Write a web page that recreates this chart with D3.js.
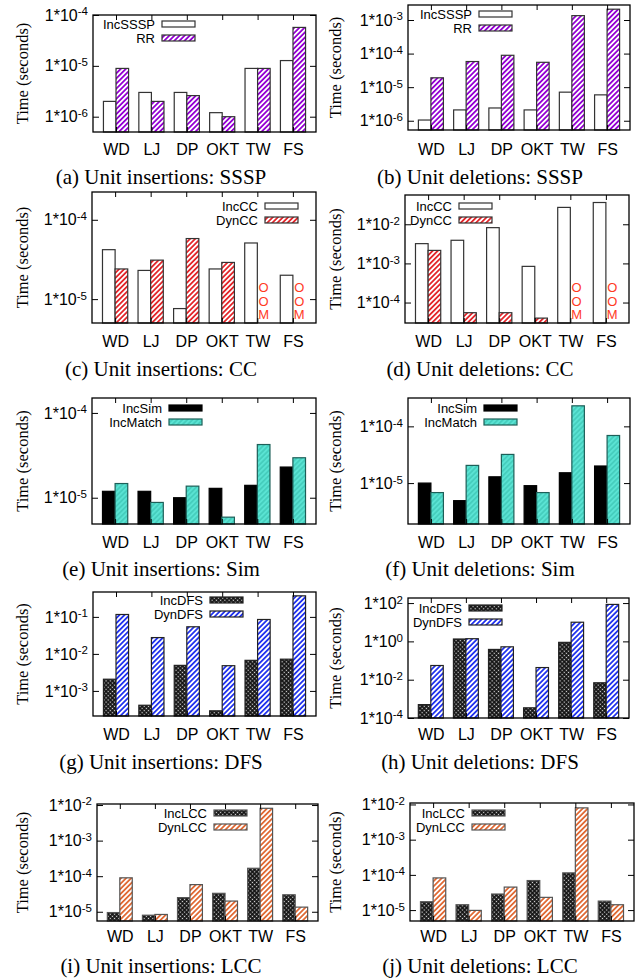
<!DOCTYPE html>
<html>
<head>
<meta charset="utf-8">
<script src="https://cdn.jsdelivr.net/npm/d3@7"></script>
<style>
    body { margin: 0; background: #fff; }
    svg text { font-family: "Liberation Sans", Arial, sans-serif; fill: #000; }
    svg text.serif { font-family: "Liberation Serif", "Times New Roman", serif; }
</style>
</head>
<body>
<svg id="chart" width="644" height="980"></svg>
<script>

// datasets on the x axis
const categories = ["WD", "LJ", "DP", "OKT", "TW", "FS"];

// (a) unit insertions: SSSP
const ssspInsInc = [2.0e-6, 3.0e-6, 3.0e-6, 1.2e-6, 8.9e-6, 1.27e-5];
const ssspInsRR = [8.9e-6, 2.0e-6, 2.6e-6, 1.0e-6, 8.9e-6, 5.7e-5];
// (b) unit deletions: SSSP
const ssspDelInc = [1.05e-6, 2.1e-6, 2.4e-6, 2.1e-6, 7.1e-6, 5.9e-6];
const ssspDelRR = [1.9e-5, 5.8e-5, 8.9e-5, 5.5e-5, 1.35e-3, 2.1e-3];
// (c) unit insertions: CC   (null = OOM)
const ccInsInc = [4.2e-5, 2.3e-5, 7.6e-6, 2.4e-5, 5.1e-5, 2.0e-5];
const ccInsDyn = [2.4e-5, 3.1e-5, 5.8e-5, 2.9e-5, null, null];
// (d) unit deletions: CC
const ccDelInc = [3.2e-3, 3.9e-3, 8.2e-3, 8.4e-4, 2.7e-2, 3.6e-2];
const ccDelDyn = [2.15e-3, 5.5e-5, 5.5e-5, 4.0e-5, null, null];
// (e) unit insertions: Sim
const simInsSim = [1.19e-5, 1.19e-5, 1.0e-5, 1.29e-5, 1.4e-5, 2.3e-5];
const simInsMatch = [1.47e-5, 8.8e-6, 1.37e-5, 5.9e-6, 4.24e-5, 2.96e-5];
// (f) unit deletions: Sim
const simDelSim = [1.0e-5, 4.9e-6, 1.29e-5, 9.0e-6, 1.52e-5, 2.0e-5];
const simDelMatch = [6.8e-6, 2.05e-5, 3.2e-5, 6.8e-6, 2.3e-4, 6.9e-5];
// (g) unit insertions: DFS
const dfsInsInc = [2.07e-3, 4.1e-4, 4.9e-3, 2.9e-4, 6.7e-3, 7.2e-3];
const dfsInsDyn = [0.116, 2.76e-2, 5.4e-2, 4.8e-3, 8.5e-2, 0.37];
// (h) unit deletions: DFS
const dfsDelInc = [5.0e-4, 1.33, 0.38, 3.4e-4, 0.89, 6.9e-3];
const dfsDelDyn = [5.5e-2, 1.38, 0.52, 4.3e-2, 10, 85];
// (i) unit insertions: LCC
const lccInsInc = [9.5e-6, 8.0e-6, 2.5e-5, 3.3e-5, 1.67e-4, 3.0e-5];
const lccInsDyn = [9.0e-5, 8.4e-6, 5.8e-5, 2.0e-5, 8.1e-3, 1.35e-5];
// (j) unit deletions: LCC
const lccDelInc = [1.73e-5, 1.42e-5, 2.86e-5, 6.9e-5, 1.14e-4, 1.8e-5];
const lccDelDyn = [8.2e-5, 9.8e-6, 4.5e-5, 2.3e-5, 8.0e-3, 1.42e-5];

// y tick values of each panel
const ticksA = [1e-6, 1e-5, 1e-4];
const ticksB = [1e-6, 1e-5, 1e-4, 1e-3];
const ticksC = [1e-5, 1e-4];
const ticksD = [1e-4, 1e-3, 1e-2];
const ticksE = [1e-5, 1e-4];
const ticksF = [1e-5, 1e-4];
const ticksG = [1e-3, 1e-2, 1e-1];
const ticksH = [1e-4, 1e-2, 1e0, 1e2];
const ticksI = [1e-5, 1e-4, 1e-3, 1e-2];
const ticksJ = [1e-5, 1e-4, 1e-3, 1e-2];

let svg = d3.select("#chart");
let defs = svg.append("defs");

// diagonal hatch pattern
function hatch(id, color, bg, w) {
    let p = defs.append("pattern")
        .attr("id", id)
        .attr("patternUnits", "userSpaceOnUse")
        .attr("width", 3.6).attr("height", 3.6)
        .attr("patternTransform", "rotate(45)");
    p.append("rect").attr("width", 3.6).attr("height", 3.6).attr("fill", bg);
    p.append("line")
        .attr("x1", 0.9).attr("y1", 0).attr("x2", 0.9).attr("y2", 3.6)
        .attr("stroke", color).attr("stroke-width", w);
}
hatch("hPurple", "#9400d3", "#fff", 1.8);
hatch("hRed", "#e3262b", "#fff", 1.8);
hatch("hBlue", "#2233ee", "#fff", 1.8);
hatch("hOrange", "#e06a35", "#fff", 1.8);
hatch("hTeal", "#3cc4b3", "#5ae3d3", 1.2);

// checkered pattern (black with white dots)
let chk = defs.append("pattern")
    .attr("id", "checker")
    .attr("patternUnits", "userSpaceOnUse")
    .attr("width", 3).attr("height", 3)
    .attr("patternTransform", "rotate(45)");
chk.append("rect").attr("width", 3).attr("height", 3).attr("fill", "#111");
chk.append("rect").attr("x", 0.8).attr("y", 0.8).attr("width", 1.3).attr("height", 1.3).attr("fill", "#ddd");

const panels = [
    {caption: "(a) Unit insertions: SSSP", names: ["IncSSSP", "RR"], values: [ssspInsInc, ssspInsRR],
        fills: ["#fff", "url(#hPurple)"], strokes: ["#333", "#333"], domain: [5e-7, 1e-4], ticks: ticksA,
        box: [93, 15, 316, 132], legend: [155, 24], catY: 150, capY: 178, col: 0},
    {caption: "(b) Unit deletions: SSSP", names: ["IncSSSP", "RR"], values: [ssspDelInc, ssspDelRR],
        fills: ["#fff", "url(#hPurple)"], strokes: ["#333", "#333"], domain: [5.3e-7, 2.8e-3], ticks: ticksB,
        box: [408, 5, 630, 130], legend: [472, 14], catY: 150, capY: 178, col: 1},
    {caption: "(c) Unit insertions: CC", names: ["IncCC", "DynCC"], values: [ccInsInc, ccInsDyn],
        fills: ["#fff", "url(#hRed)"], strokes: ["#333", "#333"], domain: [5e-6, 2.24e-4], ticks: ticksC,
        box: [92, 192, 316, 323], legend: [258, 206], catY: 342, capY: 370, col: 0},
    {caption: "(d) Unit deletions: CC", names: ["IncCC", "DynCC"], values: [ccDelInc, ccDelDyn],
        fills: ["#fff", "url(#hRed)"], strokes: ["#333", "#333"], domain: [3e-5, 5.6e-2], ticks: ticksD,
        box: [405, 195, 629, 323], legend: [452, 206], catY: 342, capY: 370, col: 1},
    {caption: "(e) Unit insertions: Sim", names: ["IncSim", "IncMatch"], values: [simInsSim, simInsMatch],
        fills: ["#000", "url(#hTeal)"], strokes: ["#000", "#1d5f58"], domain: [4.9e-6, 1.5e-4], ticks: ticksE,
        box: [92, 398, 316, 524], legend: [162, 408], catY: 543, capY: 570, col: 0},
    {caption: "(f) Unit deletions: Sim", names: ["IncSim", "IncMatch"], values: [simDelSim, simDelMatch],
        fills: ["#000", "url(#hTeal)"], strokes: ["#000", "#1d5f58"], domain: [1.9e-6, 3.16e-4], ticks: ticksF,
        box: [408, 398, 630, 524], legend: [477, 408], catY: 543, capY: 570, col: 1},
    {caption: "(g) Unit insertions: DFS", names: ["IncDFS", "DynDFS"], values: [dfsInsInc, dfsInsDyn],
        fills: ["url(#checker)", "url(#hBlue)"], strokes: ["#222", "#222"], domain: [2.1e-4, 0.47], ticks: ticksG,
        box: [93, 592, 316, 716], legend: [203, 600], catY: 735, capY: 763, col: 0},
    {caption: "(h) Unit deletions: DFS", names: ["IncDFS", "DynDFS"], values: [dfsDelInc, dfsDelDyn],
        fills: ["url(#checker)", "url(#hBlue)"], strokes: ["#222", "#222"], domain: [1e-4, 184], ticks: ticksH,
        box: [408, 598, 629, 718], legend: [462, 608], catY: 735, capY: 763, col: 1},
    {caption: "(i) Unit insertions: LCC", names: ["IncLCC", "DynLCC"], values: [lccInsInc, lccInsDyn],
        fills: ["url(#checker)", "url(#hOrange)"], strokes: ["#555", "#555"], domain: [5.5e-6, 1.07e-2], ticks: ticksI,
        box: [97, 804, 318, 921], legend: [207, 813], catY: 937, capY: 967, col: 0},
    {caption: "(j) Unit deletions: LCC", names: ["IncLCC", "DynLCC"], values: [lccDelInc, lccDelDyn],
        fills: ["url(#checker)", "url(#hOrange)"], strokes: ["#555", "#555"], domain: [4.9e-6, 1.1e-2], ticks: ticksJ,
        box: [410, 803, 634, 921], legend: [465, 813], catY: 937, capY: 967, col: 1}
];

function drawPanel(p) {
    let g = svg.append("g");
    let [x0, y0, x1, y1] = p.box;

    let x = d3.scalePoint().domain(categories).range([x0, x1]).padding(0.65);
    let y = d3.scaleLog().domain(p.domain).range([y1, y0]);
    let bw = x.step() * 0.355;

    // bars
    p.values.forEach(function (vals, s) {
        let rows = categories.map((c, i) => ({c: c, v: vals[i]}));
        g.selectAll(null)
            .data(rows.filter(d => d.v !== null))
            .enter().append("rect")
            .attr("x", d => x(d.c) + (s === 0 ? -bw : 0))
            .attr("y", d => y(d.v))
            .attr("width", bw)
            .attr("height", d => y1 - y(d.v))
            .attr("fill", p.fills[s])
            .attr("stroke", p.strokes[s])
            .attr("stroke-width", 1.2);

        // out of memory marks
        let oom = g.selectAll(null)
            .data(rows.filter(d => d.v === null))
            .enter().append("text")
            .attr("text-anchor", "middle")
            .style("font-size", "13px")
            .style("fill", "#ff3b1f");
        ["O", "O", "M"].forEach(function (ch, k) {
            oom.append("tspan")
                .attr("x", d => x(d.c) + bw / 2)
                .attr("y", y1 - 31 + k * 13.5)
                .text(ch);
        });
    });

    // axes (ticks drawn inwards, mirrored on all sides)
    let left = g.append("g").attr("transform", "translate(" + x0 + ",0)")
        .call(d3.axisLeft(y).tickValues(p.ticks).tickSizeInner(-6).tickSizeOuter(0).tickPadding(5));
    left.selectAll(".tick text")
        .style("font-size", "16px")
        .each(function (d) {
            let t = d3.select(this);
            t.text("1*10");
            t.append("tspan")
                .attr("dy", "-0.45em")
                .style("font-size", "11.5px")
                .text(Math.round(Math.log10(d)));
        });
    g.append("g").attr("transform", "translate(" + x1 + ",0)")
        .call(d3.axisRight(y).tickValues(p.ticks).tickSizeInner(-6).tickSizeOuter(0).tickFormat(""));

    let bottom = g.append("g").attr("transform", "translate(0," + y1 + ")")
        .call(d3.axisBottom(x).tickSizeInner(-5).tickSizeOuter(0).tickPadding(p.catY - y1 - 6));
    bottom.selectAll(".tick text").style("font-size", "16px");
    g.append("g").attr("transform", "translate(0," + y0 + ")")
        .call(d3.axisTop(x).tickSizeInner(-5).tickSizeOuter(0).tickFormat(""));

    g.selectAll(".domain").remove();
    g.selectAll(".tick line").attr("stroke", "#000");

    // frame
    g.append("rect")
        .attr("x", x0).attr("y", y0)
        .attr("width", x1 - x0).attr("height", y1 - y0)
        .attr("fill", "none")
        .attr("stroke", "#000")
        .attr("stroke-width", 1.3);

    // legend
    let [lx, ly] = p.legend;
    p.names.forEach(function (name, s) {
        g.append("text")
            .attr("x", lx).attr("y", ly + s * 14)
            .attr("dy", "0.35em")
            .attr("text-anchor", "end")
            .style("font-size", "13px")
            .text(name);
        g.append("rect")
            .attr("x", lx + 7).attr("y", ly + s * 14 - 3)
            .attr("width", 33).attr("height", 6)
            .attr("fill", p.fills[s])
            .attr("stroke", p.strokes[s])
            .attr("stroke-width", 1.2);
    });

    // y label
    let labelX = p.col === 0 ? 22 : 335;
    g.append("text")
        .attr("class", "serif")
        .attr("transform", "translate(" + labelX + "," + (y0 + y1) / 2 + ") rotate(-90)")
        .attr("dy", "0.35em")
        .attr("text-anchor", "middle")
        .style("font-size", "16.5px")
        .text("Time (seconds)");

    // caption
    g.append("text")
        .attr("class", "serif")
        .attr("x", p.col === 0 ? 161 : 480)
        .attr("y", p.capY + 6)
        .attr("text-anchor", "middle")
        .style("font-size", "21px")
        .text(p.caption);
}

panels.forEach(drawPanel);

</script>
</body>
</html>
